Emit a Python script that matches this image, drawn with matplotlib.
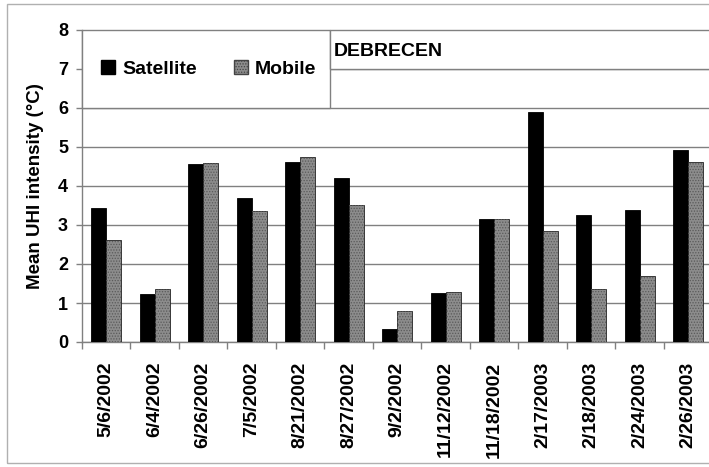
import numpy as np
import matplotlib.pyplot as plt
from matplotlib.patches import Rectangle, Patch

dates = ['5/6/2002', '6/4/2002', '6/26/2002', '7/5/2002', '8/21/2002', '8/27/2002',
         '9/2/2002', '11/12/2002', '11/18/2002', '2/17/2003', '2/18/2003',
         '2/24/2003', '2/26/2003']
satellite = [3.44, 1.23, 4.56, 3.68, 4.61, 4.21, 0.34, 1.25, 3.15, 5.90, 3.25, 3.39, 4.92]
mobile = [2.62, 1.36, 4.59, 3.37, 4.74, 3.50, 0.80, 1.27, 3.15, 2.85, 1.35, 1.70, 4.62]

plt.rcParams['font.family'] = 'Liberation Sans'
plt.rcParams['font.weight'] = 'bold'
plt.rcParams['axes.labelweight'] = 'bold'
plt.rcParams['hatch.linewidth'] = 0.6

fig = plt.figure(figsize=(7.09, 4.67), dpi=100)
ax = fig.add_axes([82 / 709, 1 - 342 / 467, 1 - 82 / 709, (342 - 30) / 467])

x = np.arange(len(dates))
w = 0.31
ax.bar(x - w / 2, satellite, w, color='black', edgecolor='black', linewidth=0.6, zorder=3)
ax.bar(x + w / 2, mobile, w, color='#8c8c8c', edgecolor='#222222', linewidth=0.6, zorder=3)
ax.bar(x + w / 2, mobile, w, color='none', edgecolor='#5a5a5a', hatch='......', linewidth=0, zorder=3)

ax.set_ylim(0, 8)
ax.set_xlim(-0.5, 12.43)
ax.set_yticks(range(0, 9))
ax.yaxis.grid(True, color='#808080', linewidth=1.0, zorder=0)
ax.set_axisbelow(True)
ax.tick_params(axis='y', labelsize=13, length=4, color='#808080', width=1, pad=6)

ax.set_xticks(x)
ax.set_xticklabels(dates, rotation=90, fontsize=14)
ax.set_xticks(x - 0.5, minor=True)
ax.tick_params(axis='x', which='major', length=0, pad=14)
ax.tick_params(axis='x', which='minor', length=5, color='#808080', width=1)

for s in ['top', 'right']:
    ax.spines[s].set_visible(False)
for s in ['left', 'bottom']:
    ax.spines[s].set_color('#808080')
    ax.spines[s].set_linewidth(1.0)

ax.set_ylabel('Mean UHI intensity (°C)', fontsize=13.5, labelpad=10)

# legend box and site label box
bx = (330 - 82) / 627
ax.add_patch(Rectangle((0, 0.75), bx, 0.25, transform=ax.transAxes, facecolor='white',
                       edgecolor='#808080', linewidth=1.0, zorder=4, clip_on=False))
ax.add_patch(Rectangle((bx, 0.875), 1.1 - bx, 0.125, transform=ax.transAxes, facecolor='white',
                       edgecolor='#808080', linewidth=1.0, zorder=4, clip_on=False))
ax.text(bx + 0.006, 0.93, 'DEBRECEN', transform=ax.transAxes, fontsize=14,
        fontweight='bold', va='center', ha='left', zorder=5)

handles = [Patch(facecolor='black', edgecolor='black', label='Satellite'),
           Patch(facecolor='#8c8c8c', edgecolor='#444444', hatch='......', label='Mobile')]
leg = ax.legend(handles=handles, ncol=2, loc='center left', bbox_to_anchor=(0.03, 0.875),
                frameon=False, prop={'size': 14, 'weight': 'bold'}, handlelength=0.75,
                handleheight=0.75, handletextpad=0.35, columnspacing=1.9,
                borderpad=0, borderaxespad=0)
leg.set_zorder(6)

# outer frame
fig.add_artist(Rectangle((7 / 709, 1 - 463 / 467), 1.1, (463 - 4) / 467,
                         transform=fig.transFigure, facecolor='none',
                         edgecolor='#b0b0b0', linewidth=1.0))

fig.savefig('out.png', dpi=100)
